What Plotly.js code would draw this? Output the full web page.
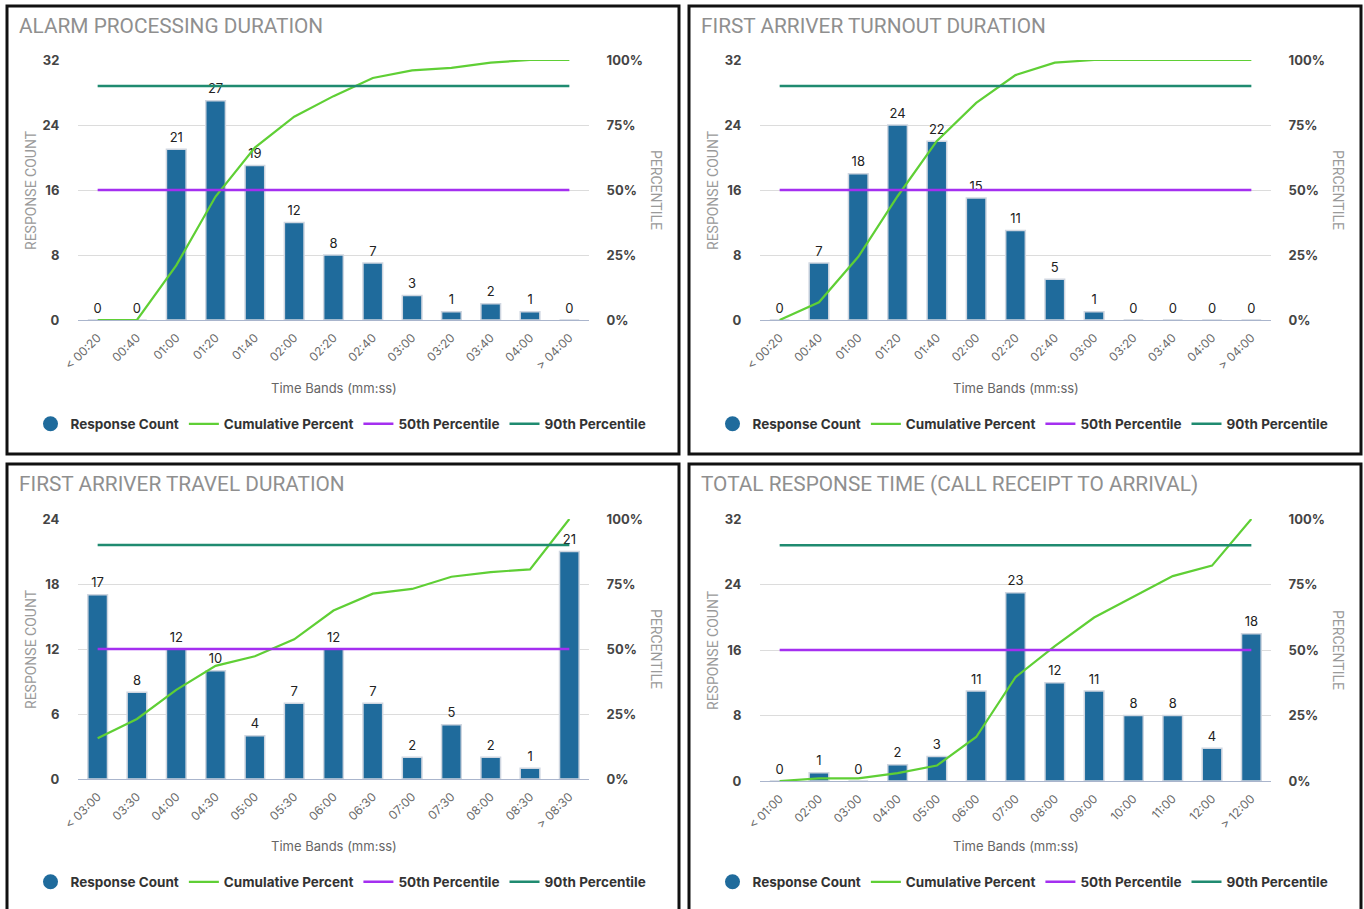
<!DOCTYPE html>
<html>
<head>
<meta charset="utf-8">
<script src="https://cdn.plot.ly/plotly-3.0.1.min.js"></script>
<style>
html,body{margin:0;padding:0;background:#fff;}
#chart{width:1364px;height:909px;}
</style>
</head>
<body>
<div id="chart"></div>
<script>
// ---------- DATA ----------
const titles = [
  "ALARM PROCESSING DURATION",
  "FIRST ARRIVER TURNOUT DURATION",
  "FIRST ARRIVER TRAVEL DURATION",
  "TOTAL RESPONSE TIME (CALL RECEIPT TO ARRIVAL)"
];
const bandsAlarm = ["< 00:20","00:40","01:00","01:20","01:40","02:00","02:20","02:40","03:00","03:20","03:40","04:00","> 04:00"];
const bandsTurnout = ["< 00:20","00:40","01:00","01:20","01:40","02:00","02:20","02:40","03:00","03:20","03:40","04:00","> 04:00"];
const bandsTravel = ["< 03:00","03:30","04:00","04:30","05:00","05:30","06:00","06:30","07:00","07:30","08:00","08:30","> 08:30"];
const bandsTotal = ["< 01:00","02:00","03:00","04:00","05:00","06:00","07:00","08:00","09:00","10:00","11:00","12:00","> 12:00"];

const countsAlarm = [0,0,21,27,19,12,8,7,3,1,2,1,0];
const countsTurnout = [0,7,18,24,22,15,11,5,1,0,0,0,0];
const countsTravel = [17,8,12,10,4,7,12,7,2,5,2,1,21];
const countsTotal = [0,1,0,2,3,11,23,12,11,8,8,4,18];

const cumAlarm = [0,0,21,47.5,66.3,78.2,86.1,93.1,96,97,99,100,100];
const cumTurnout = [0,6.8,24.3,47.6,68.9,83.5,94.2,99,100,100,100,100,100];
const cumTravel = [15.7,23.1,34.3,43.5,47.2,53.7,64.8,71.3,73.1,77.8,79.6,80.6,100];
const cumTotal = [0,1,1,3,5.9,16.8,39.6,51.5,62.4,70.3,78.2,82.2,100];

const p50 = [50,50,50,50];
const p90 = [90,90,90,90];
const countMax = [32,32,24,32];
const countStep = [8,8,6,8];

const seriesNames = ["Response Count","Cumulative Percent","50th Percentile","90th Percentile"];
const xTitle = "Time Bands (mm:ss)";
const yLeftTitle = "RESPONSE COUNT";
const yRightTitle = "PERCENTILE";

// ---------- STYLE / LAYOUT ----------
const W = 1364, H = 909;
const barColor = "#1f6b9c";
const cumColor = "#5fcf35";
const p50Color = "#a42ff0";
const p90Color = "#1f8b70";
const px = v => v / W;
const py = v => 1 - v / H;

const panels = [
  {bands: bandsAlarm, counts: countsAlarm, cum: cumAlarm, box:[7,6,679,454], plot:[78,60,589,320]},
  {bands: bandsTurnout, counts: countsTurnout, cum: cumTurnout, box:[689,6,1361,454], plot:[760,60,1271,320]},
  {bands: bandsTravel, counts: countsTravel, cum: cumTravel, box:[7,464,679,930], plot:[78,519,589,779]},
  {bands: bandsTotal, counts: countsTotal, cum: cumTotal, box:[689,464,1361,930], plot:[760,519,1271,781]}
];

const traces = [];
const layout = {
  width: W, height: H,
  margin: {l:0, r:0, t:0, b:0},
  paper_bgcolor: "#fff", plot_bgcolor: "rgba(0,0,0,0)",
  bargap: 0.5,
  showlegend: true,
  font: {family: "Inter, 'Noto Sans', sans-serif", color: "#444"},
  shapes: [], annotations: []
};

panels.forEach((p, i) => {
  const n = i + 1;
  const xa = n === 1 ? "x" : "x" + n;
  const yl = "y" + (2*i + 1 === 1 ? "" : (2*i + 1));
  const yr = "y" + (2*i + 2);
  const xKey = n === 1 ? "xaxis" : "xaxis" + n;
  const ylKey = "yaxis" + (2*i + 1 === 1 ? "" : (2*i + 1));
  const yrKey = "yaxis" + (2*i + 2);
  const lg = n === 1 ? "legend" : "legend" + n;
  const [x0, y0, x1, y1] = p.plot;

  layout[xKey] = {
    domain: [px(x0), px(x1)], anchor: yl,
    type: "category", tickangle: -45,
    range: [-0.5, p.bands.length - 0.5],
    tickfont: {size: 12, color: "#6a6a6a"},
    ticks: "outside", ticklen: 5, tickcolor: "rgba(0,0,0,0)",
    showgrid: false, showline: false, zeroline: false, fixedrange: true
  };
  layout[ylKey] = {
    domain: [py(y1), py(y0)], anchor: xa,
    range: [0, countMax[i]], dtick: countStep[i], tick0: 0,
    showgrid: true, gridcolor: "#dcdcdc", gridwidth: 1,
    zeroline: true, zerolinecolor: "#aab5cc", zerolinewidth: 1.2,
    tickfont: {size: 13, color: "#444", weight: 700},
    ticks: "outside", ticklen: 15, tickcolor: "rgba(0,0,0,0)",
    showline: false, fixedrange: true
  };
  layout[yrKey] = {
    overlaying: yl, side: "right", anchor: xa,
    range: [0, 100], dtick: 25, tick0: 0, ticksuffix: "%",
    showgrid: false, zeroline: false, showline: false,
    tickfont: {size: 13, color: "#444", weight: 700},
    ticks: "outside", ticklen: 14, tickcolor: "rgba(0,0,0,0)",
    fixedrange: true
  };

  traces.push({
    type: "bar", x: p.bands, y: p.counts, xaxis: xa, yaxis: yl,
    marker: {color: barColor, line: {color: "#cfd6e0", width: 1.5}},
    name: seriesNames[0], showlegend: false, legend: lg, hoverinfo: "x+y"
  });
  traces.push({
    type: "scatter", mode: "markers+text", x: p.bands, y: p.counts, xaxis: xa, yaxis: yl,
    marker: {size: 5, color: "rgba(0,0,0,0)"},
    text: p.counts.map(String), textposition: "top center",
    textfont: {size: 13, color: "#222"}, showlegend: false, hoverinfo: "skip", cliponaxis: false
  });
  traces.push({
    type: "scatter", mode: "markers", x: [null], y: [null], xaxis: xa, yaxis: yl,
    marker: {color: barColor, size: 15, symbol: "circle"},
    name: seriesNames[0], legend: lg, showlegend: true
  });
  traces.push({
    type: "scatter", mode: "lines", x: p.bands, y: p.cum, xaxis: xa, yaxis: yr,
    line: {color: cumColor, width: 2.2}, name: seriesNames[1], legend: lg, cliponaxis: false
  });
  traces.push({
    type: "scatter", mode: "lines", x: [p.bands[0], p.bands[p.bands.length-1]], y: [p50[i], p50[i]],
    xaxis: xa, yaxis: yr, line: {color: p50Color, width: 2.5}, name: seriesNames[2], legend: lg
  });
  traces.push({
    type: "scatter", mode: "lines", x: [p.bands[0], p.bands[p.bands.length-1]], y: [p90[i], p90[i]],
    xaxis: xa, yaxis: yr, line: {color: p90Color, width: 2.5}, name: seriesNames[3], legend: lg
  });

  const [bx0, by0, bx1, by1] = p.box;
  layout[lg] = {
    orientation: "h", x: px((bx0 + bx1) / 2 - 2), xanchor: "center",
    y: py(by0 + 418), yanchor: "middle",
    font: {size: 13.5, color: "#333", weight: 700},
    bgcolor: "rgba(0,0,0,0)", itemclick: false, itemdoubleclick: false
  };

  layout.shapes.push({
    type: "rect", xref: "paper", yref: "paper",
    x0: px(bx0), x1: px(bx1), y0: py(by1), y1: py(by0),
    line: {color: "#111", width: 3}, fillcolor: "rgba(0,0,0,0)", layer: "above"
  });

  layout.annotations.push(
    {text: titles[i], xref: "paper", yref: "paper", x: px(bx0 + 10), y: py(by0 + 20),
     xanchor: "left", yanchor: "middle", showarrow: false,
     font: {family: "Roboto, sans-serif", size: 20.8, color: "#8f8f8f"}},
    {text: yLeftTitle, xref: "paper", yref: "paper", x: px(bx0 + 24), y: py((y0 + y1) / 2),
     xanchor: "center", yanchor: "middle", textangle: -90, showarrow: false,
     font: {family: "Roboto, sans-serif", size: 14, color: "#9a9a9a"}},
    {text: yRightTitle, xref: "paper", yref: "paper", x: px(bx0 + 649), y: py((y0 + y1) / 2),
     xanchor: "center", yanchor: "middle", textangle: 90, showarrow: false,
     font: {family: "Roboto, sans-serif", size: 14, color: "#9a9a9a"}},
    {text: xTitle, xref: "paper", yref: "paper", x: px((x0 + x1) / 2), y: py(by0 + 382),
     xanchor: "center", yanchor: "middle", showarrow: false,
     font: {family: "Inter, sans-serif", size: 13, color: "#666"}}
  );
});

Plotly.newPlot("chart", traces, layout, {displayModeBar: false});
</script>
</body>
</html>
